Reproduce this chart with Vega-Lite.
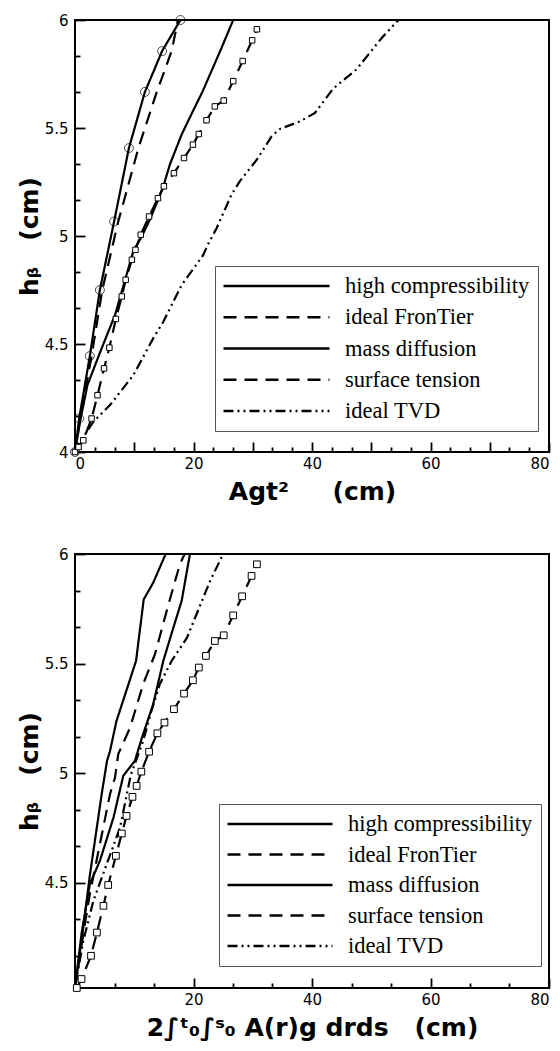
{
  "$schema": "https://vega.github.io/schema/vega-lite/v6.json",
  "padding": {"left": 16, "top": 12, "right": 0, "bottom": 0},
  "spacing": 41,
  "background": "white",
  "config": {
    "view": {"stroke": "black", "strokeWidth": 2},
    "axis": {"domain": false, "ticks": true, "tickColor": "black", "tickWidth": 1.8, "grid": false, "offset": 0,
      "labelFont": "DejaVu Sans", "labelFontSize": 15, "labelColor": "black", "titleFont": "DejaVu Sans", "titleFontSize": 25, "titleFontWeight": "bold", "titleColor": "black",
      "labelOverlap": false}
  },
  "resolve": {"scale": {"x": "independent", "y": "independent", "strokeDash": "independent"}, "legend": {"strokeDash": "independent"}},
  "datasets": {
    "top": [
      {"series": "high compressibility", "x": 0, "y": 4.0},
      {"series": "high compressibility", "x": 0.7, "y": 4.155},
      {"series": "high compressibility", "x": 2.5, "y": 4.444},
      {"series": "high compressibility", "x": 4.2, "y": 4.75},
      {"series": "high compressibility", "x": 6.6, "y": 5.067},
      {"series": "high compressibility", "x": 9.1, "y": 5.407},
      {"series": "high compressibility", "x": 11.8, "y": 5.667},
      {"series": "high compressibility", "x": 14.7, "y": 5.856},
      {"series": "high compressibility", "x": 17.8, "y": 6.0},
      {"series": "ideal FronTier", "x": 0, "y": 4.0},
      {"series": "ideal FronTier", "x": 0.85, "y": 4.155},
      {"series": "ideal FronTier", "x": 2.8, "y": 4.444},
      {"series": "ideal FronTier", "x": 4.6, "y": 4.75},
      {"series": "ideal FronTier", "x": 7.3, "y": 5.067},
      {"series": "ideal FronTier", "x": 10.7, "y": 5.407},
      {"series": "ideal FronTier", "x": 13.8, "y": 5.667},
      {"series": "ideal FronTier", "x": 16.3, "y": 5.856},
      {"series": "ideal FronTier", "x": 17.4, "y": 6.0},
      {"series": "mass diffusion", "x": 0, "y": 4.0},
      {"series": "mass diffusion", "x": 0.85, "y": 4.14},
      {"series": "mass diffusion", "x": 2.1, "y": 4.31},
      {"series": "mass diffusion", "x": 4.5, "y": 4.48},
      {"series": "mass diffusion", "x": 6.75, "y": 4.634},
      {"series": "mass diffusion", "x": 9.85, "y": 4.93},
      {"series": "mass diffusion", "x": 11.3, "y": 5.0},
      {"series": "mass diffusion", "x": 12.7, "y": 5.08},
      {"series": "mass diffusion", "x": 14.8, "y": 5.22},
      {"series": "mass diffusion", "x": 16.0, "y": 5.33},
      {"series": "mass diffusion", "x": 18.0, "y": 5.47},
      {"series": "mass diffusion", "x": 19.9, "y": 5.578},
      {"series": "mass diffusion", "x": 21.5, "y": 5.667},
      {"series": "mass diffusion", "x": 24.5, "y": 5.856},
      {"series": "mass diffusion", "x": 26.7, "y": 6.0},
      {"series": "surface tension", "x": 0, "y": 4.0},
      {"series": "surface tension", "x": 0.6, "y": 4.023},
      {"series": "surface tension", "x": 1.4, "y": 4.054},
      {"series": "surface tension", "x": 2.8, "y": 4.155},
      {"series": "surface tension", "x": 3.8, "y": 4.263},
      {"series": "surface tension", "x": 4.9, "y": 4.387},
      {"series": "surface tension", "x": 5.8, "y": 4.483},
      {"series": "surface tension", "x": 6.9, "y": 4.616},
      {"series": "surface tension", "x": 7.9, "y": 4.72},
      {"series": "surface tension", "x": 8.55, "y": 4.797},
      {"series": "surface tension", "x": 9.6, "y": 4.89},
      {"series": "surface tension", "x": 10.2, "y": 4.936},
      {"series": "surface tension", "x": 11.1, "y": 5.006},
      {"series": "surface tension", "x": 12.5, "y": 5.09},
      {"series": "surface tension", "x": 14.0, "y": 5.175},
      {"series": "surface tension", "x": 15.0, "y": 5.23},
      {"series": "surface tension", "x": 16.7, "y": 5.291},
      {"series": "surface tension", "x": 18.4, "y": 5.361},
      {"series": "surface tension", "x": 19.9, "y": 5.423},
      {"series": "surface tension", "x": 20.9, "y": 5.472},
      {"series": "surface tension", "x": 22.2, "y": 5.536},
      {"series": "surface tension", "x": 23.6, "y": 5.6},
      {"series": "surface tension", "x": 25.1, "y": 5.627},
      {"series": "surface tension", "x": 26.7, "y": 5.717},
      {"series": "surface tension", "x": 28.3, "y": 5.81},
      {"series": "surface tension", "x": 29.9, "y": 5.906},
      {"series": "surface tension", "x": 30.7, "y": 5.957},
      {"series": "ideal TVD", "x": 0, "y": 4.0},
      {"series": "ideal TVD", "x": 0.85, "y": 4.046},
      {"series": "ideal TVD", "x": 3.1, "y": 4.14},
      {"series": "ideal TVD", "x": 5.9, "y": 4.217},
      {"series": "ideal TVD", "x": 9.85, "y": 4.356},
      {"series": "ideal TVD", "x": 13.2, "y": 4.526},
      {"series": "ideal TVD", "x": 14.9, "y": 4.603},
      {"series": "ideal TVD", "x": 18.0, "y": 4.773},
      {"series": "ideal TVD", "x": 21.6, "y": 4.91},
      {"series": "ideal TVD", "x": 22.6, "y": 4.97},
      {"series": "ideal TVD", "x": 23.9, "y": 5.036},
      {"series": "ideal TVD", "x": 26.4, "y": 5.191},
      {"series": "ideal TVD", "x": 27.8, "y": 5.253},
      {"series": "ideal TVD", "x": 30.7, "y": 5.354},
      {"series": "ideal TVD", "x": 33.2, "y": 5.462},
      {"series": "ideal TVD", "x": 34.6, "y": 5.496},
      {"series": "ideal TVD", "x": 38.0, "y": 5.531},
      {"series": "ideal TVD", "x": 40.5, "y": 5.57},
      {"series": "ideal TVD", "x": 43.6, "y": 5.683},
      {"series": "ideal TVD", "x": 47.5, "y": 5.771},
      {"series": "ideal TVD", "x": 51.8, "y": 5.918},
      {"series": "ideal TVD", "x": 54.6, "y": 6.0}
    ],
    "bottom": [
      {"series": "high compressibility", "x": 0, "y": 4.02},
      {"series": "high compressibility", "x": 1.4, "y": 4.296},
      {"series": "high compressibility", "x": 2.5, "y": 4.532},
      {"series": "high compressibility", "x": 4.5, "y": 4.904},
      {"series": "high compressibility", "x": 5.4, "y": 5.056},
      {"series": "high compressibility", "x": 5.9, "y": 5.1},
      {"series": "high compressibility", "x": 7.0, "y": 5.238},
      {"series": "high compressibility", "x": 10.3, "y": 5.512},
      {"series": "high compressibility", "x": 11.6, "y": 5.793},
      {"series": "high compressibility", "x": 13.2, "y": 5.869},
      {"series": "high compressibility", "x": 15.3, "y": 6.0},
      {"series": "ideal FronTier", "x": 0, "y": 4.02},
      {"series": "ideal FronTier", "x": 1.4, "y": 4.266},
      {"series": "ideal FronTier", "x": 2.5, "y": 4.448},
      {"series": "ideal FronTier", "x": 4.2, "y": 4.676},
      {"series": "ideal FronTier", "x": 5.9, "y": 4.904},
      {"series": "ideal FronTier", "x": 6.75, "y": 4.98},
      {"series": "ideal FronTier", "x": 7.3, "y": 5.087},
      {"series": "ideal FronTier", "x": 9.3, "y": 5.208},
      {"series": "ideal FronTier", "x": 11.5, "y": 5.406},
      {"series": "ideal FronTier", "x": 13.5, "y": 5.543},
      {"series": "ideal FronTier", "x": 15.7, "y": 5.763},
      {"series": "ideal FronTier", "x": 17.7, "y": 5.953},
      {"series": "ideal FronTier", "x": 18.5, "y": 6.0},
      {"series": "mass diffusion", "x": 0, "y": 4.02},
      {"series": "mass diffusion", "x": 1.1, "y": 4.267},
      {"series": "mass diffusion", "x": 2.5, "y": 4.494},
      {"series": "mass diffusion", "x": 4.2, "y": 4.6},
      {"series": "mass diffusion", "x": 6.5, "y": 4.798},
      {"series": "mass diffusion", "x": 8.15, "y": 4.988},
      {"series": "mass diffusion", "x": 9.0, "y": 5.018},
      {"series": "mass diffusion", "x": 10.1, "y": 5.056},
      {"series": "mass diffusion", "x": 11.3, "y": 5.162},
      {"series": "mass diffusion", "x": 13.2, "y": 5.315},
      {"series": "mass diffusion", "x": 14.9, "y": 5.512},
      {"series": "mass diffusion", "x": 16.6, "y": 5.664},
      {"series": "mass diffusion", "x": 18.0, "y": 5.786},
      {"series": "mass diffusion", "x": 19.4, "y": 6.0},
      {"series": "surface tension", "x": 0.3, "y": 4.02},
      {"series": "surface tension", "x": 1.1, "y": 4.061},
      {"series": "surface tension", "x": 2.7, "y": 4.167},
      {"series": "surface tension", "x": 3.7, "y": 4.273},
      {"series": "surface tension", "x": 4.8, "y": 4.395},
      {"series": "surface tension", "x": 5.6, "y": 4.49},
      {"series": "surface tension", "x": 6.9, "y": 4.623},
      {"series": "surface tension", "x": 7.9, "y": 4.725},
      {"series": "surface tension", "x": 8.7, "y": 4.805},
      {"series": "surface tension", "x": 9.7, "y": 4.892},
      {"series": "surface tension", "x": 10.4, "y": 4.942},
      {"series": "surface tension", "x": 11.2, "y": 5.007},
      {"series": "surface tension", "x": 12.5, "y": 5.098},
      {"series": "surface tension", "x": 13.9, "y": 5.182},
      {"series": "surface tension", "x": 15.1, "y": 5.231},
      {"series": "surface tension", "x": 16.7, "y": 5.292},
      {"series": "surface tension", "x": 18.4, "y": 5.363},
      {"series": "surface tension", "x": 19.9, "y": 5.424},
      {"series": "surface tension", "x": 20.9, "y": 5.482},
      {"series": "surface tension", "x": 22.1, "y": 5.535},
      {"series": "surface tension", "x": 23.6, "y": 5.603},
      {"series": "surface tension", "x": 25.1, "y": 5.629},
      {"series": "surface tension", "x": 26.7, "y": 5.72},
      {"series": "surface tension", "x": 28.2, "y": 5.807},
      {"series": "surface tension", "x": 29.8, "y": 5.9},
      {"series": "surface tension", "x": 30.7, "y": 5.953},
      {"series": "ideal TVD", "x": 0, "y": 4.02},
      {"series": "ideal TVD", "x": 1.4, "y": 4.235},
      {"series": "ideal TVD", "x": 3.1, "y": 4.418},
      {"series": "ideal TVD", "x": 5.35, "y": 4.585},
      {"series": "ideal TVD", "x": 7.6, "y": 4.752},
      {"series": "ideal TVD", "x": 9.4, "y": 4.99},
      {"series": "ideal TVD", "x": 11.5, "y": 5.147},
      {"series": "ideal TVD", "x": 12.9, "y": 5.284},
      {"series": "ideal TVD", "x": 14.3, "y": 5.406},
      {"series": "ideal TVD", "x": 16.3, "y": 5.512},
      {"series": "ideal TVD", "x": 18.9, "y": 5.618},
      {"series": "ideal TVD", "x": 22.8, "y": 5.877},
      {"series": "ideal TVD", "x": 25.0, "y": 6.0}
    ]
  },
  "vconcat": [
    {
      "data": {"name": "top"},
      "width": 474,
      "height": 432,
      "resolve": {"axis": {"x": "independent", "y": "independent"}},
      "layer": [
        {
          "mark": {"type": "line", "stroke": "black", "strokeWidth": 2.2, "clip": true},
          "encoding": {
            "x": {"field": "x", "type": "quantitative", "scale": {"domain": [0, 80], "nice": false, "zero": false},
              "axis": {"orient": "bottom", "title": "Agt²\u00a0\u00a0\u00a0\u00a0\u00a0(cm)", "values": [0, 10, 20, 30, 40, 50, 60, 70, 80],
                "format": "d", "labelExpr": "datum.value % 20 == 0 ? datum.label : ''",
                "tickSize": -10, "labelPadding": 14, "titlePadding": 8}},
            "y": {"field": "y", "type": "quantitative", "scale": {"domain": [4, 6], "nice": false, "zero": false},
              "axis": {"orient": "left", "title": "hᵦ\u00a0\u00a0\u00a0(cm)", "values": [4, 4.5, 5, 5.5, 6],
                "format": ".1~f", "tickSize": -10, "labelPadding": 17, "titlePadding": 2}},
            "order": {"field": "y", "type": "quantitative"},
            "strokeDash": {"field": "series", "type": "nominal",
              "scale": {"domain": ["high compressibility", "ideal FronTier", "mass diffusion", "surface tension", "ideal TVD"],
                "range": [[1, 0], [13, 8], [1, 0], [13, 8], [10, 4, 2, 4, 2, 4]]},
              "legend": {"title": null, "orient": "none", "legendX": 140, "legendY": 246,
                "symbolType": "stroke", "symbolSize": 11236, "symbolStrokeWidth": 2.5, "symbolStrokeColor": "black", "clipHeight": 24, "rowPadding": 7.25,
                "symbolOffset": -1, "labelOffset": 14, "labelFont": "Liberation Serif", "labelFontSize": 22.5, "labelColor": "black", "labelLimit": 0,
                "padding": 8, "strokeColor": "#555", "fillColor": "white"}}
          }
        },
        {
          "transform": [{"filter": "datum.series == 'high compressibility'"}],
          "mark": {"type": "point", "shape": "circle", "filled": false, "stroke": "black", "strokeWidth": 1, "size": 80},
          "encoding": {"x": {"field": "x", "type": "quantitative", "axis": null}, "y": {"field": "y", "type": "quantitative", "axis": null}}
        },
        {
          "transform": [{"filter": "datum.series == 'surface tension'"}],
          "mark": {"type": "point", "shape": "square", "filled": true, "fill": "white", "stroke": "black", "strokeWidth": 1, "size": 30, "opacity": 1},
          "encoding": {
            "x": {"field": "x", "type": "quantitative",
              "axis": {"orient": "bottom", "title": null, "labels": false, "values": [3.3333, 6.6667, 13.3333, 16.6667, 23.3333, 26.6667, 33.3333, 36.6667, 43.3333, 46.6667, 53.3333, 56.6667, 63.3333, 66.6667, 73.3333, 76.6667], "tickSize": -5}},
            "y": {"field": "y", "type": "quantitative",
              "axis": {"orient": "left", "title": null, "labels": false, "values": [4.1667, 4.3333, 4.6667, 4.8333, 5.1667, 5.3333, 5.6667, 5.8333], "tickSize": -5}}
          }
        }
      ]
    },
    {
      "data": {"name": "bottom"},
      "width": 474,
      "height": 434,
      "resolve": {"axis": {"x": "independent", "y": "independent"}},
      "layer": [
        {
          "mark": {"type": "line", "stroke": "black", "strokeWidth": 2.2, "clip": true},
          "encoding": {
            "x": {"field": "x", "type": "quantitative", "scale": {"domain": [0, 80], "nice": false, "zero": false},
              "axis": {"orient": "bottom", "title": "2∫ᵗ₀∫ˢ₀ A(r)g drds\u00a0\u00a0\u00a0(cm)", "values": [20, 40, 60, 80],
                "format": "d", "tickSize": -10, "labelPadding": 14, "titlePadding": 8}},
            "y": {"field": "y", "type": "quantitative", "scale": {"domain": [4.02, 6], "nice": false, "zero": false},
              "axis": {"orient": "left", "title": "hᵦ\u00a0\u00a0\u00a0(cm)", "values": [4.5, 5, 5.5, 6],
                "format": ".1~f", "tickSize": -10, "labelPadding": 17, "titlePadding": 2}},
            "order": {"field": "y", "type": "quantitative"},
            "strokeDash": {"field": "series", "type": "nominal",
              "scale": {"domain": ["high compressibility", "ideal FronTier", "mass diffusion", "surface tension", "ideal TVD"],
                "range": [[1, 0], [13, 8], [1, 0], [13, 8], [10, 4, 2, 4, 2, 4]]},
              "legend": {"title": null, "orient": "none", "legendX": 144, "legendY": 250,
                "symbolType": "stroke", "symbolSize": 11025, "symbolStrokeWidth": 2.5, "symbolStrokeColor": "black", "clipHeight": 24, "rowPadding": 6.5,
                "symbolOffset": -1, "labelOffset": 14, "labelFont": "Liberation Serif", "labelFontSize": 22.5, "labelColor": "black", "labelLimit": 0,
                "padding": 8, "strokeColor": "#555", "fillColor": "white"}}
          }
        },
        {
          "transform": [{"filter": "datum.series == 'surface tension'"}],
          "mark": {"type": "point", "shape": "square", "filled": true, "fill": "white", "stroke": "black", "strokeWidth": 1, "size": 45, "opacity": 1},
          "encoding": {
            "x": {"field": "x", "type": "quantitative",
              "axis": {"orient": "bottom", "title": null, "labels": false, "values": [6.6667, 13.3333, 26.6667, 33.3333, 46.6667, 53.3333, 66.6667, 73.3333], "tickSize": -5}},
            "y": {"field": "y", "type": "quantitative",
              "axis": {"orient": "left", "title": null, "labels": false, "values": [4.1667, 4.3333, 4.6667, 4.8333, 5.1667, 5.3333, 5.6667, 5.8333], "tickSize": -5}}
          }
        }
      ]
    }
  ]
}
